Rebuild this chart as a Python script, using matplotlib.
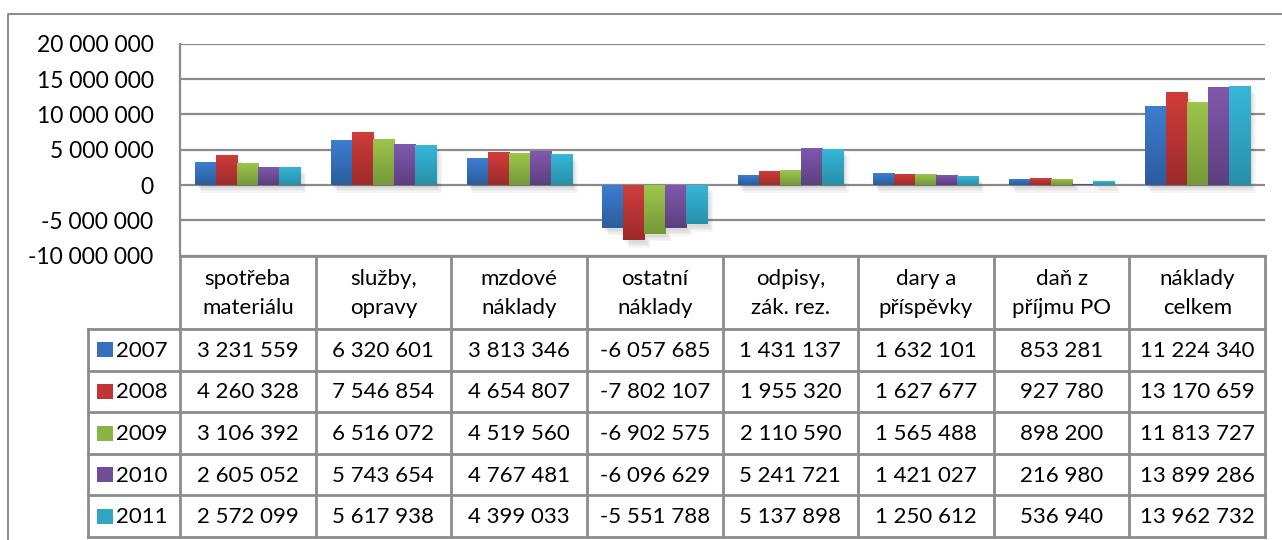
import numpy as np
import matplotlib
matplotlib.use("Agg")
import matplotlib.pyplot as plt
from matplotlib.colors import LinearSegmentedColormap
from matplotlib.transforms import offset_copy

plt.rcParams['font.family'] = ['Lato', 'DejaVu Sans']

kategorie = ['spotřeba\nmateriálu', 'služby,\nopravy', 'mzdové\nnáklady', 'ostatní\nnáklady',
             'odpisy,\nzák. rez.', 'dary a\npříspěvky', 'daň z\npříjmu PO', 'náklady\ncelkem']
roky = ['2007', '2008', '2009', '2010', '2011']
h2007 = [3231559, 6320601, 3813346, -6057685, 1431137, 1632101, 853281, 11224340]
h2008 = [4260328, 7546854, 4654807, -7802107, 1955320, 1627677, 927780, 13170659]
h2009 = [3106392, 6516072, 4519560, -6902575, 2110590, 1565488, 898200, 11813727]
h2010 = [2605052, 5743654, 4767481, -6096629, 5241721, 1421027, 216980, 13899286]
h2011 = [2572099, 5617938, 4399033, -5551788, 5137898, 1250612, 536940, 13962732]
hodnoty = [h2007, h2008, h2009, h2010, h2011]
yticks = [-10000000, -5000000, 0, 5000000, 10000000, 15000000, 20000000]

# barvy (nahore svetlejsi, dole tmavsi)
barvy_top = ['#3D7ED1', '#D13D3B', '#9EC64B', '#8059AE', '#37B7D9']
barvy_bot = ['#2C5C9C', '#9C2B2A', '#76983A', '#5D3F80', '#2790A8']
barvy_leg = ['#3670BC', '#C23534', '#8AB443', '#6F4E97', '#31A5C4']

def fmt(v):
    return f"{v:,.0f}".replace(',', ' ')

W, H = 1282, 540
fig = plt.figure(figsize=(W / 100, H / 100), dpi=100)

# pomocne osy v pixelech pro ramecek a tabulku
ov = fig.add_axes([0, 0, 1, 1])
ov.set_xlim(0, W)
ov.set_ylim(H, 0)
ov.axis('off')

x0, x1 = 180, 1265
ytop, ybot = 43.7, 255.7
ax = fig.add_axes([x0 / W, 1 - ybot / H, (x1 - x0) / W, (ybot - ytop) / H])
ax.set_zorder(2)
ax.patch.set_alpha(0)

n = len(kategorie)
x = np.arange(n)
sirka = 0.155
grad = np.linspace(1, 0, 256).reshape(-1, 1)
for i, rada in enumerate(hodnoty):
    cmap = LinearSegmentedColormap.from_list('g%d' % i, [barvy_bot[i], barvy_top[i]])
    pos = x + (i - 2) * sirka
    # stin
    for k in range(4):
        ax.bar(pos + 0.008 + k * 0.002, rada, sirka, color='#000000', alpha=0.035,
               transform=offset_copy(ax.transData, fig=fig, x=1 + k, y=-3 - k * 1.5, units='dots'),
               zorder=2)
    bars = ax.bar(pos, rada, sirka, color=barvy_top[i], linewidth=0, zorder=3)
    for b in bars:
        bx, by = b.get_x(), b.get_y()
        bw, bh = b.get_width(), b.get_height()
        lo, hi = min(by, by + bh), max(by, by + bh)
        im = ax.imshow(grad, cmap=cmap, aspect='auto', extent=[bx, bx + bw, lo, hi],
                       interpolation='bilinear', zorder=3)
        im.set_clip_path(b)

ax.set_xlim(-0.5, n - 0.5)
ax.set_ylim(yticks[0], yticks[-1])
ax.set_yticks(yticks)
ax.set_yticklabels([fmt(v) for v in yticks], fontsize=16.5)
ax.tick_params(axis='y', length=0, pad=19)
ax.set_xticks([])
for s in ['top', 'right', 'bottom']:
    ax.spines[s].set_visible(False)
ax.spines['left'].set_color('#8a8a8a')
ax.spines['left'].set_linewidth(1.6)
for v in yticks:
    ax.axhline(v, color='#8a8a8a', lw=1.6, zorder=1)

# vnejsi ramecek grafu
ov.plot([8, 8, W], [H, 14, 14], color='#8a8a8a', lw=1.4)

# tabulka s daty
sloupec = (x1 - x0) / n
hdr_top, hdr_bot = ybot, 329
radek = (537 - hdr_bot) / len(roky)
leg_x = 87.5
lc = '#8c8c8c'
lw = 2
for j in range(n + 1):
    xx = x0 + j * sloupec
    ov.plot([xx, xx], [hdr_top, 537], color=lc, lw=lw)
ov.plot([leg_x, leg_x], [hdr_bot, 537], color=lc, lw=lw)
ov.plot([x0, x1], [hdr_top, hdr_top], color=lc, lw=lw)
for r in range(len(roky) + 1):
    yy = hdr_bot + r * radek
    ov.plot([leg_x, x1], [yy, yy], color=lc, lw=lw)

fs = 16
for j, k in enumerate(kategorie):
    ov.text(x0 + (j + 0.5) * sloupec, (hdr_top + hdr_bot) / 2 + 1, k, ha='center', va='center',
            fontsize=fs, linespacing=1.55)

for r, rok in enumerate(roky):
    yc = hdr_bot + (r + 0.5) * radek
    ov.add_patch(plt.Rectangle((96.5, yc - 7.5), 16, 15, color=barvy_leg[r], lw=0))
    ov.text(116, yc + 1, rok, ha='left', va='center', fontsize=fs)
    for j in range(n):
        ov.text(x0 + (j + 0.5) * sloupec, yc + 1, fmt(hodnoty[r][j]), ha='center', va='center',
                fontsize=fs)

fig.savefig('out.png', dpi=100)
